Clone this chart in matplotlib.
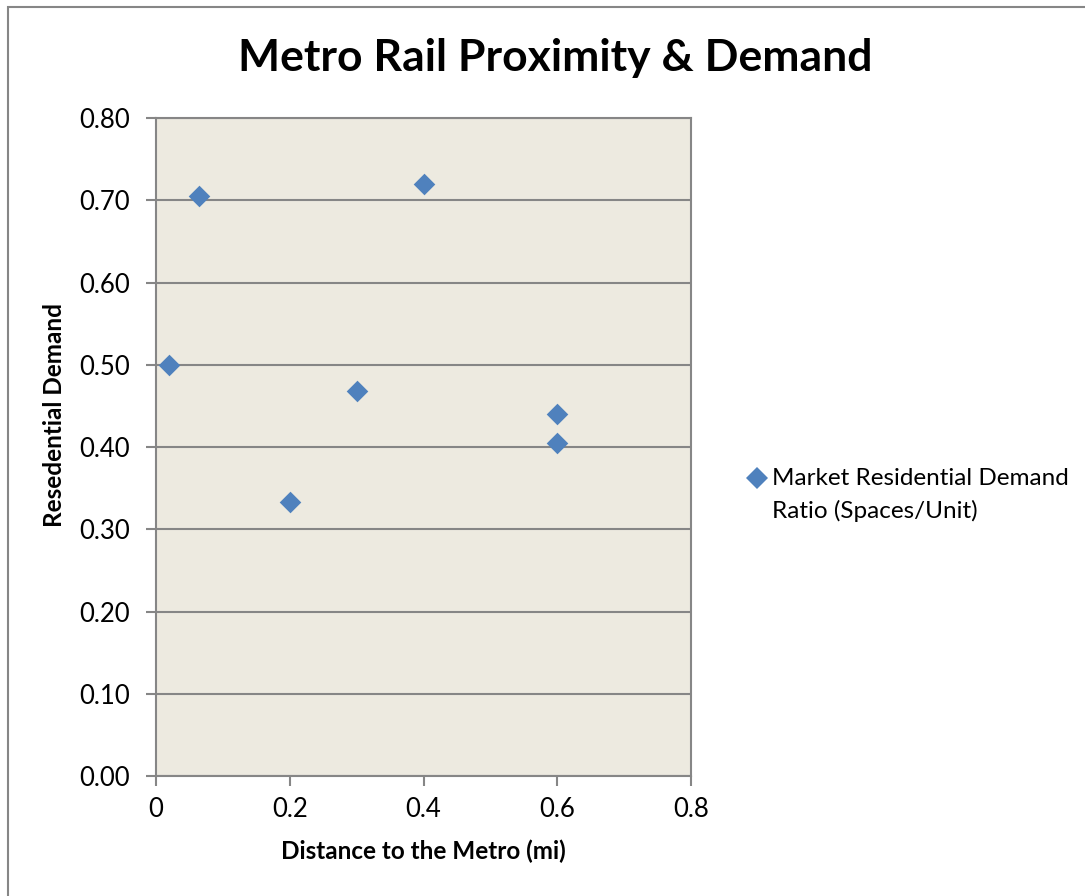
import matplotlib.pyplot as plt
from matplotlib.lines import Line2D
from matplotlib.patches import Rectangle

# distance to metro (mi) vs. residential parking demand ratio
distance = [0.02, 0.065, 0.2, 0.3, 0.4, 0.6, 0.6]
demand = [0.50, 0.705, 0.333, 0.468, 0.72, 0.44, 0.405]

y_ticks = [0.0, 0.1, 0.2, 0.3, 0.4, 0.5, 0.6, 0.7, 0.8]
x_ticks = [0, 0.2, 0.4, 0.6, 0.8]
series_name = "Market Residential Demand\nRatio (Spaces/Unit)"

plt.rcParams["font.family"] = ["Lato", "DejaVu Sans"]
grey = "#868686"
blue = "#4F81BD"

fig = plt.figure(figsize=(10.85, 8.96), dpi=100)
ax = fig.add_axes([0.1438, 0.1339, 0.4931, 0.7344])
ax.set_facecolor("#EDEAE0")

ax.scatter(distance, demand, marker="D", s=11 ** 2, color=blue,
           linewidths=0, zorder=3)

ax.set_xlim(0, 0.8)
ax.set_ylim(0, 0.8)
ax.set_xticks(x_ticks)
ax.set_xticklabels([f"{v:g}" for v in x_ticks])
ax.set_yticks(y_ticks)
ax.set_yticklabels([f"{v:.2f}" for v in y_ticks])
ax.tick_params(direction="out", length=7, width=1.5, color=grey,
               labelsize=18.5)
ax.tick_params(axis="y", pad=12)
ax.tick_params(axis="x", pad=8)
ax.grid(axis="y", color=grey, linewidth=1.5)
ax.set_axisbelow(True)
for side in ax.spines.values():
    side.set_color(grey)
    side.set_linewidth(1.5)

ax.set_xlabel("Distance to the Metro (mi)", fontsize=17.5, fontweight="bold",
              labelpad=13)
ax.set_ylabel("Resedential Demand", fontsize=17.5, fontweight="bold")
# y title sits a little above the middle of the axis
ax.yaxis.set_label_coords(-0.168, 0.549)
fig.text(0.512, 1 - 58 / 896, "Metro Rail Proximity & Demand", fontsize=32,
         fontweight="bold", ha="center", va="center")

# legend: key marker level with the first line of the label
fig.add_artist(Line2D([757 / 1085], [1 - 478 / 896], marker="D",
                      markersize=11, color=blue, markeredgewidth=0,
                      linestyle="none", transform=fig.transFigure))
fig.text(772 / 1085, 1 - 495 / 896, series_name, fontsize=17.5,
         ha="left", va="center", linespacing=1.65,
         transform=fig.transFigure)

# outer chart border
fig.patches.append(Rectangle((8 / 1085, -0.1), 1.2, 1.1 - 7 / 896,
                             transform=fig.transFigure, fill=False,
                             edgecolor=grey, linewidth=1.5))

fig.savefig("out.png", dpi=100)
